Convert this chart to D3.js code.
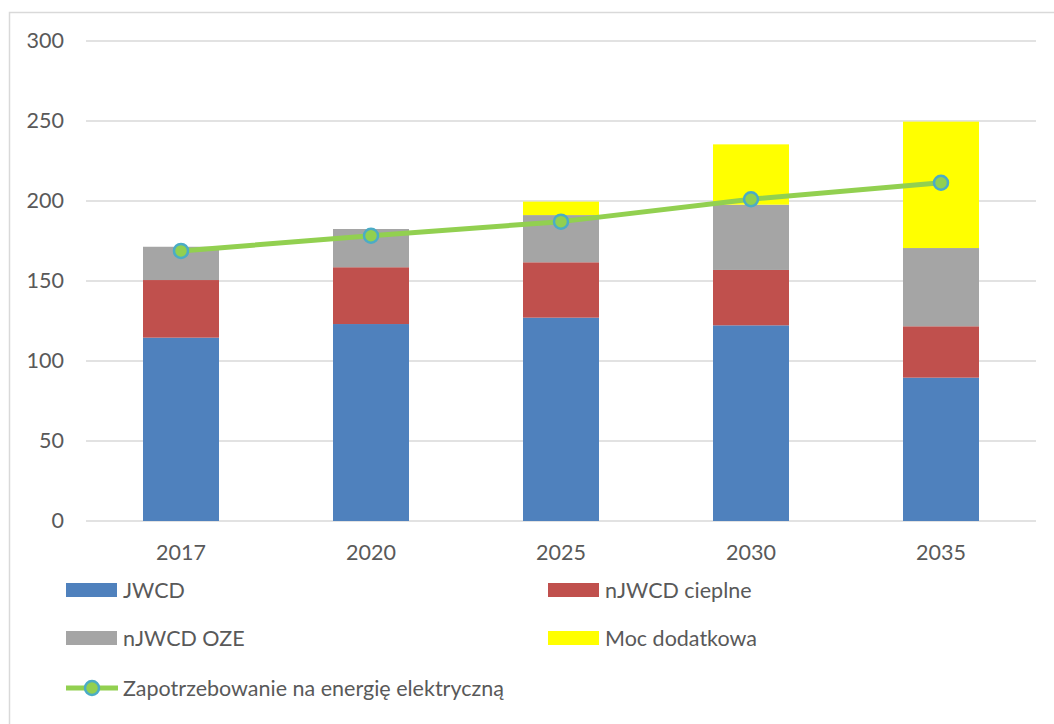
<!DOCTYPE html>
<html>
<head>
<meta charset="utf-8">
<script src="https://cdn.jsdelivr.net/npm/d3@7"></script>
<style>
  html, body { margin: 0; padding: 0; background: #fff; }
  svg { display: block; }
  text { font-family: Lato, "Open Sans", sans-serif; fill: #595959; }
</style>
</head>
<body>
<svg id="chart" width="1054" height="724"></svg>
<script>
// Years on the category axis
const years = ["2017", "2020", "2025", "2030", "2035"];

// Stacked capacity components
const jwcd = [114.6, 123.1, 127.1, 122.3, 89.6];
const njwcdCieplne = [36.0, 35.5, 34.6, 34.6, 32.1];
const njwcdOze = [20.8, 23.9, 29.5, 40.8, 48.9];
const mocDodatkowa = [0, 0, 8.4, 37.7, 79.0];

// Demand line
const zapotrzebowanie = [168.8, 178.3, 187.1, 201.1, 211.4];

const yTicks = [0, 50, 100, 150, 200, 250, 300];

const seriesNames = ["JWCD", "nJWCD cieplne", "nJWCD OZE", "Moc dodatkowa"];
const lineName = "Zapotrzebowanie na energię elektryczną";
const colors = ["#4f81bd", "#c0504d", "#a5a5a5", "#ffff00"];

const svg = d3.select("#chart");

// outer frame
svg.append("rect")
  .attr("x", 9.5).attr("y", 12.5)
  .attr("width", 1100).attr("height", 800)
  .attr("fill", "none").attr("stroke", "#d9d9d9").attr("stroke-width", 1.5);

const x = d3.scaleBand().domain(years).range([86, 1036])
  .paddingInner(0.6).paddingOuter(0.3);
const y = d3.scaleLinear().domain([0, 300]).range([521, 41]);

// gridlines
svg.append("g").selectAll("line").data(yTicks).join("line")
  .attr("x1", 86).attr("x2", 1036)
  .attr("y1", d => y(d)).attr("y2", d => y(d))
  .attr("stroke", "#d9d9d9").attr("stroke-width", 1.5);

// y axis labels
const yAxis = d3.axisLeft(y).tickValues(yTicks).tickSize(0).tickPadding(0);
const gy = svg.append("g").attr("transform", "translate(64,0)").call(yAxis);
gy.select(".domain").remove();
gy.selectAll("text").attr("font-size", 21.5).attr("fill", "#595959")
  .style("font-family", "Lato, sans-serif");

// x axis labels
const xAxis = d3.axisBottom(x).tickSize(0).tickPadding(0);
const gx = svg.append("g").attr("transform", "translate(0,545)").call(xAxis);
gx.select(".domain").remove();
gx.selectAll("text").attr("font-size", 21.5).attr("fill", "#595959")
  .style("font-family", "Lato, sans-serif");

// stacked bars
const rows = years.map((yr, i) => ({
  year: yr,
  s0: jwcd[i], s1: njwcdCieplne[i], s2: njwcdOze[i], s3: mocDodatkowa[i]
}));
const stack = d3.stack().keys(["s0", "s1", "s2", "s3"])(rows);

svg.append("g").selectAll("g").data(stack).join("g")
  .attr("fill", (d, i) => colors[i])
  .selectAll("rect").data(d => d).join("rect")
  .attr("x", d => x(d.data.year))
  .attr("width", x.bandwidth())
  .attr("y", d => y(d[1]))
  .attr("height", d => y(d[0]) - y(d[1]));

// demand line with markers
const cx = d => x(d.year) + x.bandwidth() / 2;
const pts = years.map((yr, i) => ({ year: yr, v: zapotrzebowanie[i] }));
svg.append("path").datum(pts)
  .attr("d", d3.line().x(cx).y(d => y(d.v)))
  .attr("fill", "none").attr("stroke", "#92d050").attr("stroke-width", 5)
  .attr("stroke-linejoin", "round");
svg.append("g").selectAll("circle").data(pts).join("circle")
  .attr("cx", cx).attr("cy", d => y(d.v)).attr("r", 7)
  .attr("fill", "#92d050").attr("stroke", "#4bacc6").attr("stroke-width", 2.5);

// legend
const leg = svg.append("g");
const legItems = [
  { name: seriesNames[0], color: colors[0], x: 66, y: 590 },
  { name: seriesNames[1], color: colors[1], x: 548, y: 590 },
  { name: seriesNames[2], color: colors[2], x: 66, y: 638 },
  { name: seriesNames[3], color: colors[3], x: 548, y: 638 }
];
legItems.forEach(it => {
  leg.append("rect").attr("x", it.x).attr("y", it.y - 7)
    .attr("width", 51).attr("height", 14).attr("fill", it.color);
  leg.append("text").attr("x", it.x + 57).attr("y", it.y)
    .attr("dominant-baseline", "central").attr("font-size", 21.5).text(it.name);
});
leg.append("line").attr("x1", 66).attr("x2", 118).attr("y1", 688).attr("y2", 688)
  .attr("stroke", "#92d050").attr("stroke-width", 5);
leg.append("circle").attr("cx", 92).attr("cy", 688).attr("r", 7)
  .attr("fill", "#92d050").attr("stroke", "#4bacc6").attr("stroke-width", 2.5);
leg.append("text").attr("x", 123).attr("y", 688)
  .attr("dominant-baseline", "central").attr("font-size", 21.5).text(lineName);
</script>
</body>
</html>
